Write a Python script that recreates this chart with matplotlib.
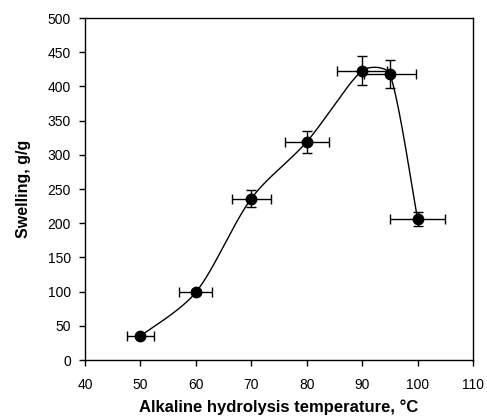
import numpy as np
import matplotlib
matplotlib.use("Agg")
import matplotlib.pyplot as plt

plt.rcParams['font.family'] = ['Liberation Sans', 'DejaVu Sans']

temperature = [50, 60, 70, 80, 90, 95, 100]
swelling = [35, 99, 236, 319, 423, 418, 206]
x_err = [2.5, 3, 3.5, 4, 4.5, 4.75, 5]
y_err = [3, 3, 12, 16, 21, 21, 10]


def excel_smooth(x, y, sx=5.54, sy=0.684, n=80):
    x = np.asarray(x, float); y = np.asarray(y, float)
    px = np.concatenate([[x[0]], x, [x[-1]]])
    py = np.concatenate([[y[0]], y, [y[-1]]])
    P = np.stack([px, py], axis=1)
    S = np.array([sx, sy])

    def dist(a, b):
        return np.hypot(*((a - b) * S))

    xs, ys = [], []
    for i in range(1, len(P) - 2):
        p0, p1, p2, p3 = P[i-1], P[i], P[i+1], P[i+2]
        d01, d12, d23 = dist(p0, p1), dist(p1, p2), dist(p2, p3)
        s1 = min(1.0, 2 * d12 / (d01 + d12)) if d01 + d12 > 0 else 1.0
        s2 = min(1.0, 2 * d12 / (d12 + d23)) if d12 + d23 > 0 else 1.0
        c1 = p1 + (p2 - p0) / 6.0 * s1
        c2 = p2 - (p3 - p1) / 6.0 * s2
        t = np.linspace(0, 1, n)[:, None]
        b = (1-t)**3*p1 + 3*(1-t)**2*t*c1 + 3*(1-t)*t**2*c2 + t**3*p2
        xs.extend(b[:, 0]); ys.extend(b[:, 1])
    return np.array(xs), np.array(ys)


fig = plt.figure(figsize=(4.87, 4.18), dpi=100)
ax = fig.add_axes([85/487, 1 - 360/418, 388/487, 342/418])

sx, sy = excel_smooth(temperature, swelling)
ax.plot(sx, sy, color='black', lw=1.0, zorder=2)
ax.errorbar(temperature, swelling, xerr=x_err, yerr=y_err, fmt='o', color='black',
            ms=7.5, elinewidth=1.0, capsize=3.5, capthick=1.0, zorder=3)

ax.set_xlim(40, 110)
ax.set_ylim(0, 500)
ax.set_xticks(range(40, 111, 10))
ax.set_yticks(range(0, 501, 50))
ax.tick_params(direction='out', length=4, width=1, labelsize=10, colors='black')
ax.tick_params(axis='x', pad=9)
ax.tick_params(axis='y', pad=6)
for s in ax.spines.values():
    s.set_linewidth(1.0)
ax.set_xlabel('Alkaline hydrolysis temperature, \u00b0C', fontsize=12, fontweight='bold', labelpad=5)
ax.set_ylabel('Swelling, g/g', fontsize=11.5, fontweight='bold', labelpad=12)

fig.savefig('out.png', dpi=100)
